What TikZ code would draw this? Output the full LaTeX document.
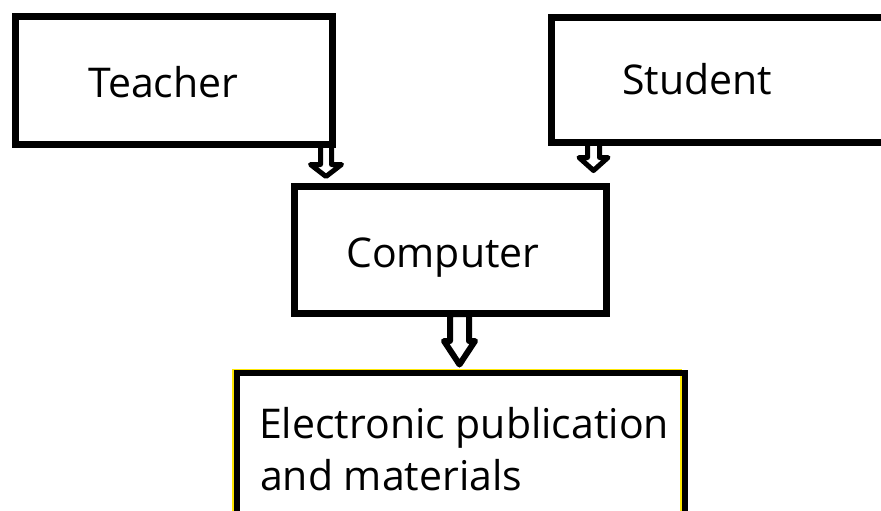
\documentclass[tikz,border=0pt]{standalone}
\usepackage{fontspec}
\setmainfont{Open Sans}
\begin{document}
\begin{tikzpicture}[x=1pt,y=-1pt,
  box/.style={draw=black,line width=7pt,inner sep=0pt},
  lbl/.style={anchor=base west,inner sep=0pt,font=\fontsize{41}{49}\selectfont},
  blk/.style={draw=black,fill=white,line join=round}]
\useasboundingbox (0,0) rectangle (881,511);
\clip (0,0) rectangle (881,511);
\fill[white] (0,0) rectangle (881,511);
% arrows (drawn first, boxes cover their tops)
\draw[blk,line width=5pt] (320.5,145) -- (320.5,164.5) -- (310.5,164.5) -- (326,176.5) -- (341.5,164.5) -- (331.5,164.5) -- (331.5,145) -- cycle;
\draw[blk,line width=5pt] (587.5,143) -- (587.5,157.5) -- (579,157.5) -- (593.5,170.5) -- (608,157.5) -- (599.5,157.5) -- (599.5,143) -- cycle;
\draw[blk,line width=6pt] (450,314) -- (450,341) -- (444,341) -- (459.5,364.5) -- (475,341) -- (469,341) -- (469,314) -- cycle;
% boxes
\node[box,minimum width=317pt,minimum height=128pt] (teacher) at (174,80.5) {};
\node[box,minimum width=360pt,minimum height=125pt] (student) at (731.5,80) {};
\node[box,minimum width=312pt,minimum height=127pt] (computer) at (450.5,250) {};
\draw[yellow!90!orange,line width=2pt] (233,369.5) rectangle (681,530);
\node[draw=black,line width=6pt,inner sep=0pt,minimum width=448pt,minimum height=140.5pt] (epub) at (460.5,443.25) {};
% texts
\node[lbl] (tteacher) at (88,98) {Teacher};
\node[lbl] (tstudent) at (622,95) {Student};
\node[lbl] (tcomputer) at (346,267) {Computer};
\node[lbl] (tepub1) at (259,438) {Electronic publication};
\node[lbl] (tepub2) at (260,490) {and materials};
\end{tikzpicture}
\end{document}
